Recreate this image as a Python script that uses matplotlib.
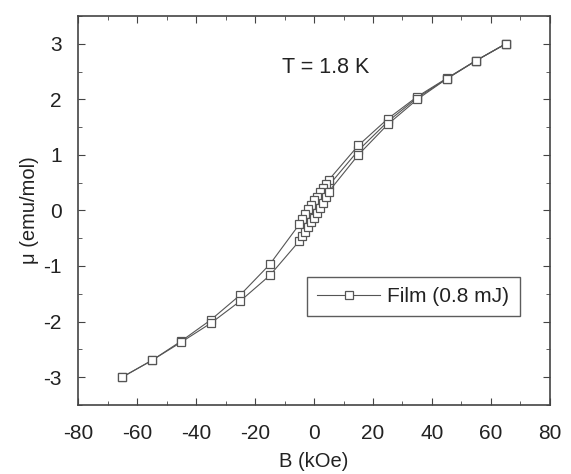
import numpy as np
import matplotlib
matplotlib.use("Agg")
import matplotlib.pyplot as plt
from matplotlib.ticker import MultipleLocator

plt.rcParams["font.family"] = ["Liberation Sans", "DejaVu Sans"]
plt.rcParams["axes.unicode_minus"] = False

# field values (kOe) for each sweep
b_virgin = [0, 1, 2, 3, 4, 5, 15, 25, 35, 45, 55, 65]
mu_virgin = [0.02, 0.1, 0.18, 0.27, 0.36, 0.45, 1.08, 1.6, 2.03, 2.37, 2.7, 3.0]

b_down = [65, 55, 45, 35, 25, 15, 5, 4, 3, 2, 1, 0, -1, -2, -3, -4, -5,
          -15, -25, -35, -45, -55, -65]
mu_down = [3.0, 2.7, 2.38, 2.05, 1.65, 1.17, 0.55, 0.47, 0.4, 0.33, 0.25, 0.18,
           0.1, 0.02, -0.07, -0.16, -0.25, -0.97, -1.52, -1.97, -2.35, -2.7, -3.0]

b_up = [-65, -55, -45, -35, -25, -15, -5, -4, -3, -2, -1, 0, 1, 2, 3, 4, 5,
        15, 25, 35, 45, 55, 65]
mu_up = [-3.0, -2.7, -2.37, -2.03, -1.63, -1.17, -0.55, -0.46, -0.38, -0.29,
         -0.21, -0.13, -0.04, 0.05, 0.14, 0.24, 0.34, 1.0, 1.55, 2.0, 2.37, 2.7, 3.0]

fig = plt.figure(figsize=(5.71, 4.74), dpi=100)
ax = fig.add_axes([0.137, 0.146, 0.826, 0.82])

style = dict(color="#555555", lw=0.8, marker="s", ms=6, mfc="white",
             mec="#555555", mew=0.9)
ax.plot(b_virgin, mu_virgin, **style)
ax.plot(b_down, mu_down, **style)
ax.plot(b_up, mu_up, label="Film (0.8 mJ)", **style)

ax.set_xlim(-80, 80)
ax.set_ylim(-3.5, 3.5)
ax.xaxis.set_major_locator(MultipleLocator(20))
ax.xaxis.set_minor_locator(MultipleLocator(10))
ax.yaxis.set_major_locator(MultipleLocator(1))
ax.yaxis.set_minor_locator(MultipleLocator(0.5))
ax.tick_params(which="both", direction="in", top=True, right=True,
               labelsize=15, color="#444444", labelcolor="#222222")
ax.tick_params(which="major", length=5, pad=12)
ax.tick_params(axis="x", which="major", pad=14)
ax.tick_params(which="minor", length=3)
for s in ax.spines.values():
    s.set_color("#444444")
    s.set_linewidth(1.2)

ax.set_xlabel("B (kOe)", fontsize=14.5, labelpad=6, color="#222222")
ax.set_ylabel("\u03bc (emu/mol)", fontsize=14.5, labelpad=3, color="#222222")
ax.text(-11, 2.58, "T = 1.8 K", fontsize=15.5, va="center", color="#222222")

leg = ax.legend(loc="upper left", bbox_to_anchor=(0.485, 0.33), fontsize=15,
                fancybox=False, edgecolor="#333333", handlelength=3.0,
                handletextpad=0.35, borderpad=0.5, borderaxespad=0,
                markerscale=0.9)
leg.get_frame().set_linewidth(1.0)
for t in leg.get_texts():
    t.set_color("#222222")

fig.savefig("out.png", dpi=100)
